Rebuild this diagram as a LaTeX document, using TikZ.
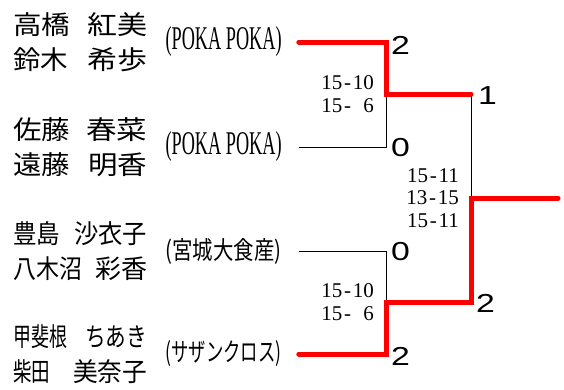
\documentclass[tikz,border=0pt]{standalone}
\usepackage{fontspec}
\setmainfont{Liberation Serif}
\newfontfamily\jpfont{Noto Sans CJK JP}
\newfontfamily\digitfont{Liberation Sans}
\usetikzlibrary{positioning}

\newcommand{\fitw}[2]{\resizebox{#1}{\height}{#2}}
\newcommand{\pline}[4]{\makebox[134pt]{\fitw{#1}{#2}\hfill\fitw{#3}{#4}}}
\newcommand{\teamtag}[2][23pt]{\resizebox{116pt}{#1}{#2}}
\newcommand{\sline}[2]{#1\makebox[0.5em]{-}#2}
\newcommand{\pts}[1]{\scalebox{1.3}[1]{#1}}

\tikzset{
  player/.style={anchor=west, inner sep=0pt, align=left, font=\jpfont\fontsize{26}{35}\selectfont},
  team/.style={inner sep=0pt},
  games/.style={inner sep=0pt, align=right, font=\fontsize{21}{22.5}\selectfont},
  points/.style={inner sep=0pt, font=\digitfont\fontsize{26}{26}\selectfont},
  lose/.style={draw=black, line width=0.9pt},
  win/.style={draw=red, line width=5pt, line cap=round}
}

\begin{document}
\begin{tikzpicture}[x=1pt, y=-1pt]
\useasboundingbox (0,0) rectangle (564,389);

% players and teams
\node[player] (p1) at (13,42) {\pline{57pt}{高橋}{60pt}{紅美}\\\pline{55pt}{鈴木}{60pt}{希歩}};
\node[team] (t1) [right=18pt of p1] {\teamtag{(POKA POKA)}};
\node[player] (p2) at (13,147) {\pline{57pt}{佐藤}{61pt}{春菜}\\\pline{57pt}{遠藤}{59pt}{明香}};
\node[team] (t2) [right=18pt of p2] {\teamtag{(POKA POKA)}};
\node[player] (p3) at (13,251) {\pline{47pt}{豊島}{73pt}{沙衣子}\\\pline{69pt}{八木沼}{52pt}{彩香}};
\node[team] (t3) [right=18pt of p3] {\teamtag[21pt]{\jpfont(宮城大食産)}};
\node[player] (p4) at (13,354) {\pline{54pt}{甲斐根}{62pt}{ちあき}\\\pline{37pt}{柴田}{74pt}{美奈子}};
\node[team] (t4) [right=18pt of p4] {\teamtag[21pt]{\jpfont(サザンクロス)}};

% bracket points
\coordinate[right=17pt of t1] (s1);
\coordinate[right=17pt of t2] (s2);
\coordinate[right=17pt of t3] (s3);
\coordinate[right=17pt of t4] (s4);
\coordinate (k1) at (386,42);
\coordinate (k2) at (386,147);
\coordinate (k3) at (386,251);
\coordinate (k4) at (386,354);
\coordinate (m1) at (386,94);
\coordinate (m2) at (386,302);
\coordinate (f1) at (471,94);
\coordinate (f2) at (471,302);
\coordinate (w) at (471,198);
\coordinate (champ) at (558,198);

% lines
\path[lose] (s2) -- (k2) -- (m1);
\path[lose] (s3) -- (k3) -- (m2);
\path[lose] (f1) -- (w);
\path[win] (s1) -- (k1) -- (m1) -- (f1);
\path[win] (s4) -- (k4) -- (m2) -- (f2) -- (w) -- (champ);

% results
\node[points] (r1) [right=5pt of k1, yshift=-3pt] {\pts{2}};
\node[points] (r2) [right=5pt of k2, yshift=-1pt] {\pts{0}};
\node[points] (r3) [right=5pt of k3, yshift=-1pt] {\pts{0}};
\node[points] (r4) [right=5pt of k4, yshift=-2pt] {\pts{2}};
\node[points] (r5) [right=7pt of f1, yshift=-2pt] {\pts{1}};
\node[points] (r6) [right=5pt of f2, yshift=-1pt] {\pts{2}};

\node[games] (g1) [left=12pt of m1] {\sline{15}{10}\\\sline{15}{\phantom{1}6}};
\node[games] (g2) [left=12pt of w] {\sline{15}{11}\\\sline{13}{15}\\\sline{15}{11}};
\node[games] (g3) [left=12pt of m2] {\sline{15}{10}\\\sline{15}{\phantom{1}6}};
\end{tikzpicture}
\end{document}
